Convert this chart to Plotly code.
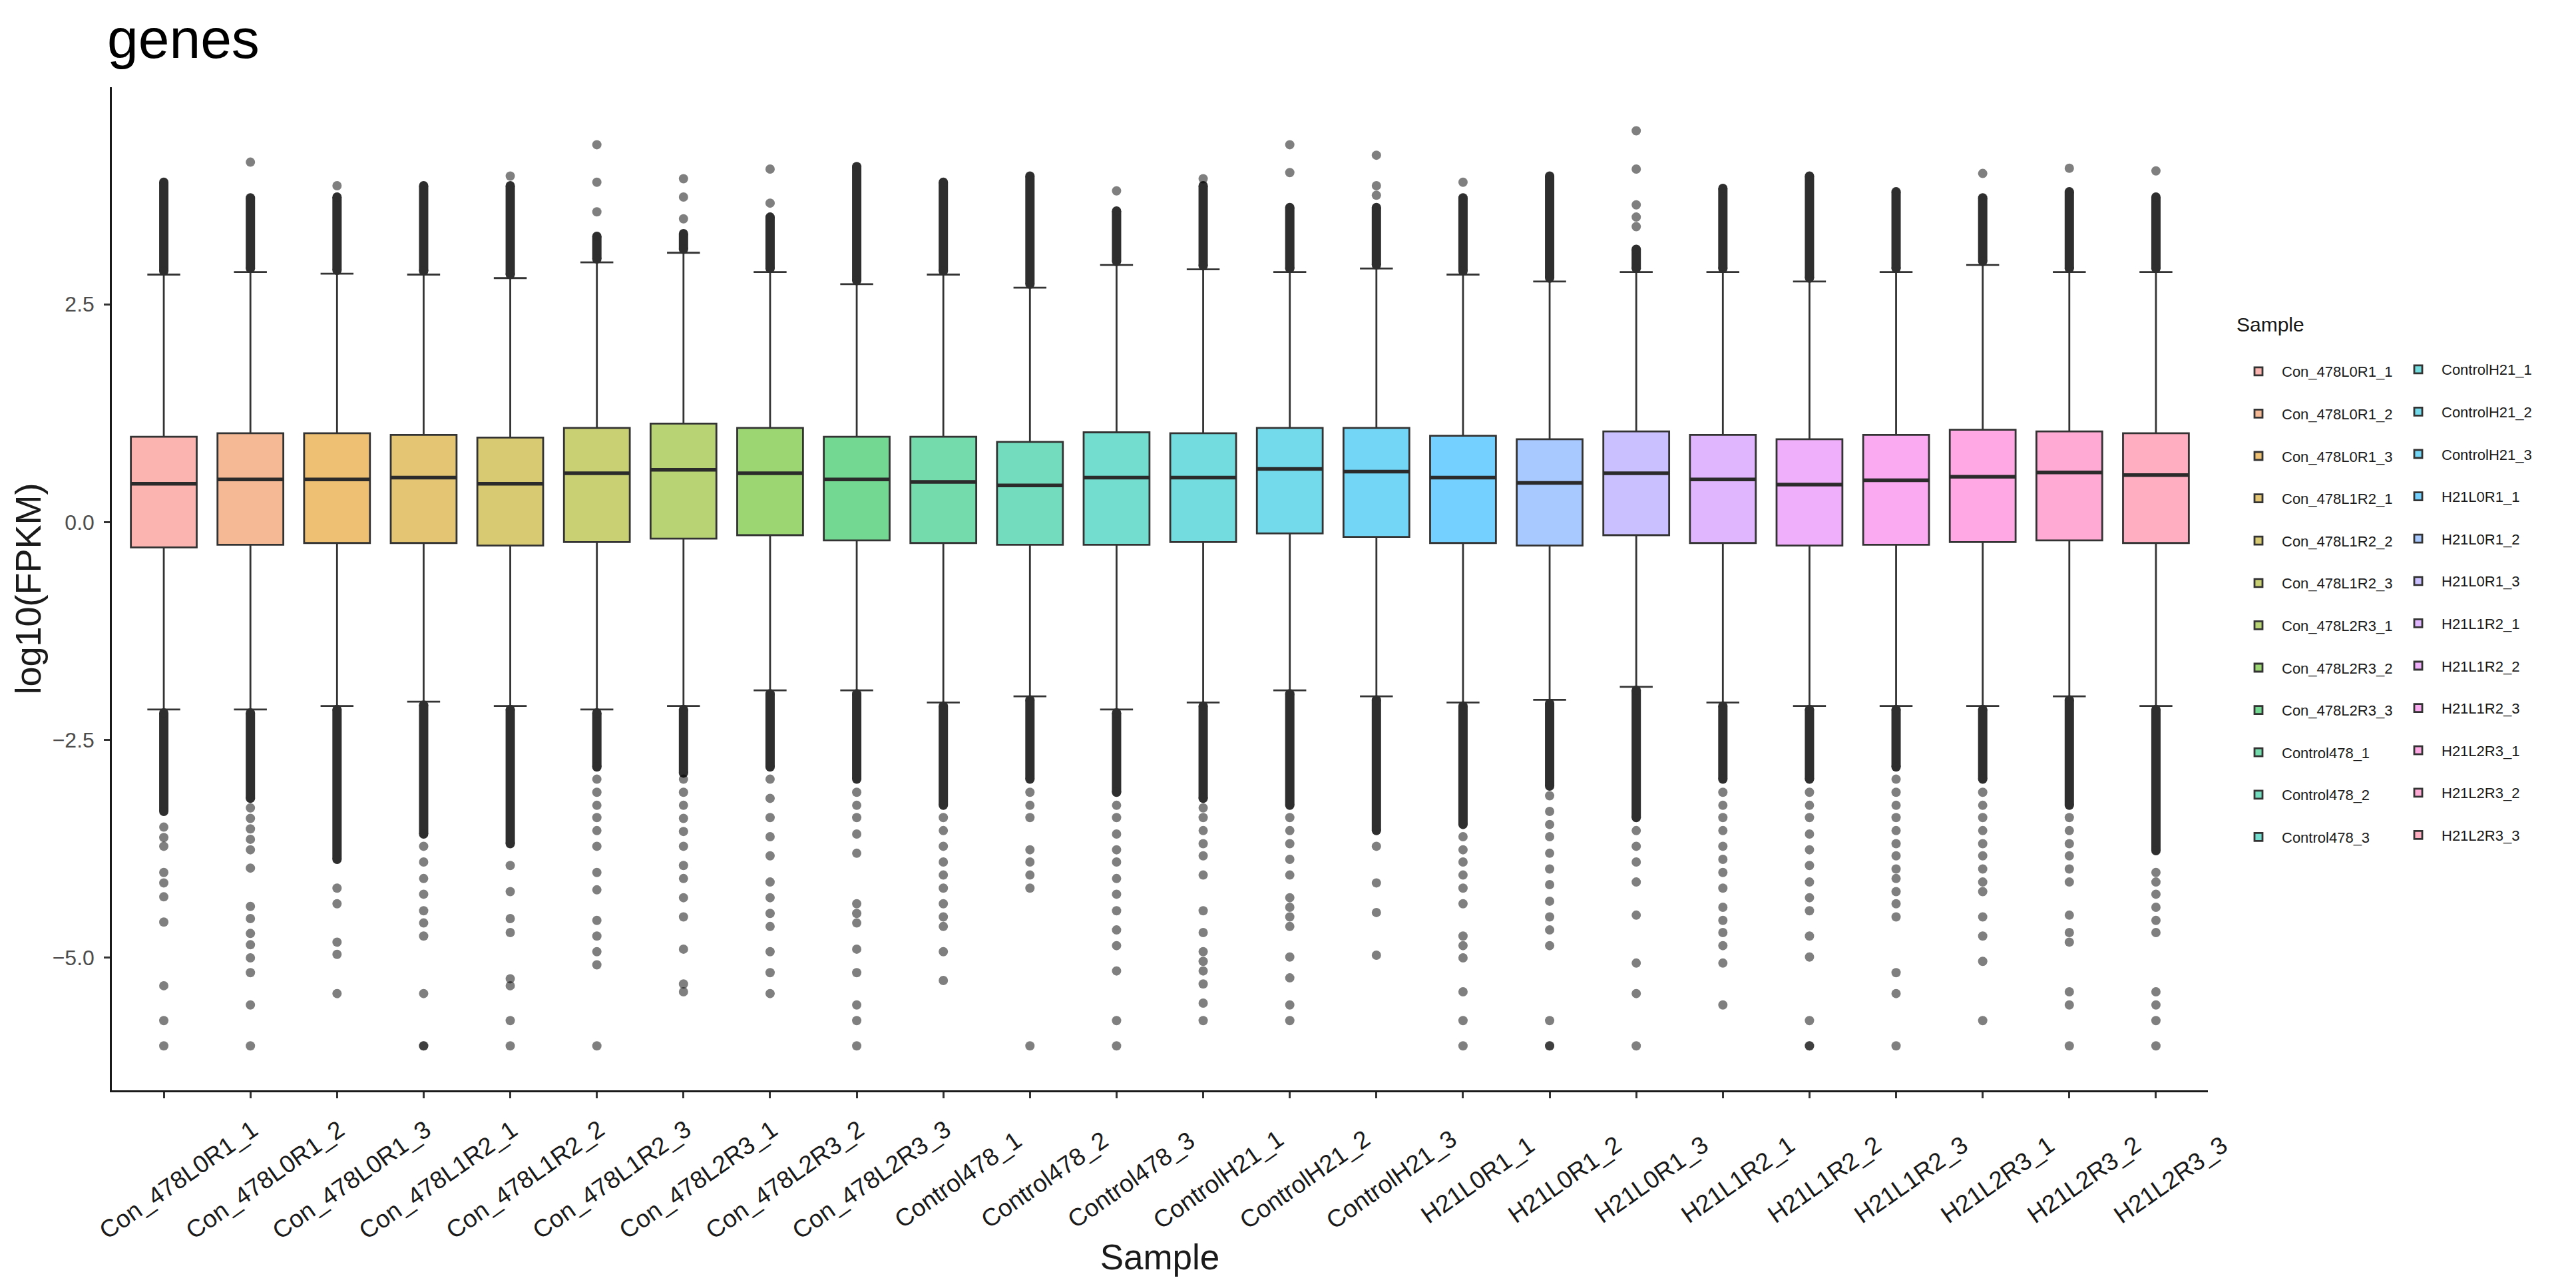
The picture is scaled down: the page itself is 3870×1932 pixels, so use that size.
import math
import plotly.graph_objects as go

# ---------------- data ----------------
samples = ["Con_478L0R1_1", "Con_478L0R1_2", "Con_478L0R1_3", "Con_478L1R2_1",
           "Con_478L1R2_2", "Con_478L1R2_3", "Con_478L2R3_1", "Con_478L2R3_2",
           "Con_478L2R3_3", "Control478_1", "Control478_2", "Control478_3",
           "ControlH21_1", "ControlH21_2", "ControlH21_3", "H21L0R1_1",
           "H21L0R1_2", "H21L0R1_3", "H21L1R2_1", "H21L1R2_2", "H21L1R2_3",
           "H21L2R3_1", "H21L2R3_2", "H21L2R3_3"]

q1 = [-0.29, -0.26, -0.24, -0.24, -0.27, -0.23, -0.19, -0.15, -0.21, -0.24, -0.26, -0.26,
      -0.23, -0.13, -0.17, -0.24, -0.27, -0.15, -0.24, -0.27, -0.26, -0.23, -0.21, -0.24]
median = [0.44, 0.49, 0.49, 0.51, 0.44, 0.56, 0.60, 0.56, 0.49, 0.46, 0.42, 0.51,
          0.51, 0.61, 0.58, 0.51, 0.45, 0.56, 0.49, 0.43, 0.48, 0.52, 0.57, 0.54]
q3 = [0.98, 1.02, 1.02, 1.00, 0.97, 1.08, 1.13, 1.08, 0.98, 0.98, 0.92, 1.03,
      1.02, 1.08, 1.08, 0.99, 0.95, 1.04, 1.00, 0.95, 1.00, 1.06, 1.04, 1.02]
lower_whisker = [-2.15, -2.15, -2.11, -2.06, -2.11, -2.15, -2.11, -1.93, -1.93, -2.07, -2.00, -2.15,
                 -2.07, -1.93, -2.00, -2.07, -2.04, -1.89, -2.07, -2.11, -2.11, -2.11, -2.00, -2.11]
upper_whisker = [2.84, 2.87, 2.85, 2.84, 2.80, 2.98, 3.09, 2.87, 2.73, 2.84, 2.69, 2.95,
                 2.90, 2.87, 2.91, 2.84, 2.76, 2.87, 2.87, 2.76, 2.87, 2.95, 2.87, 2.87]

# extent of the dense (overlapping) outlier runs just beyond each whisker
upper_dense_end = [3.90, 3.72, 3.73, 3.86, 3.86, 3.28, 3.31, 3.50, 4.08, 3.90, 3.97, 3.57,
                   3.86, 3.61, 3.61, 3.72, 3.97, 3.13, 3.83, 3.97, 3.79, 3.72, 3.79, 3.73]
lower_dense_end = [-3.32, -3.17, -3.87, -3.58, -3.69, -2.81, -2.88, -2.81, -2.95, -3.25, -2.95, -3.10,
                   -3.17, -3.25, -3.54, -3.47, -3.03, -3.39, -2.95, -2.95, -2.81, -2.95, -3.25, -3.77]

# individually visible outliers
upper_outliers = [
    [], [4.13], [3.86], [], [3.97], [3.56, 3.90, 4.33], [3.48, 3.73, 3.94], [3.66, 4.05],
    [], [], [], [3.80], [3.94], [4.01, 4.33], [3.75, 3.86, 4.21], [3.90], [],
    [3.39, 3.50, 3.64, 4.05, 4.49], [], [], [], [4.00], [4.06], [4.03],
]
lower_outliers = [
    [-3.50, -3.62, -3.72, -4.02, -4.14, -4.30, -4.59, -5.32, -5.72, -6.01],
    [-3.28, -3.40, -3.52, -3.64, -3.76, -3.97, -4.41, -4.55, -4.72, -4.85, -5.00, -5.17, -5.54, -6.01],
    [-4.20, -4.38, -4.82, -4.96, -5.41],
    [-3.72, -3.90, -4.09, -4.27, -4.46, -4.60, -4.75, -5.41, -6.01, -6.01],
    [-3.94, -4.24, -4.55, -4.71, -5.24, -5.32, -5.72, -6.01],
    [-2.95, -3.10, -3.25, -3.39, -3.54, -3.72, -4.02, -4.22, -4.57, -4.75, -4.93, -5.08, -6.01],
    [-2.95, -3.10, -3.25, -3.40, -3.55, -3.72, -3.94, -4.09, -4.31, -4.53, -4.90, -5.30, -5.39],
    [-2.95, -3.17, -3.39, -3.61, -3.83, -4.13, -4.31, -4.49, -4.64, -4.93, -5.17, -5.41],
    [-3.10, -3.25, -3.39, -3.58, -3.80, -4.38, -4.49, -4.60, -4.90, -5.17, -5.54, -5.72, -6.01],
    [-3.39, -3.54, -3.72, -3.90, -4.05, -4.20, -4.38, -4.53, -4.64, -4.93, -5.26],
    [-3.10, -3.25, -3.39, -3.76, -3.90, -4.05, -4.20, -6.01],
    [-3.25, -3.39, -3.58, -3.76, -3.90, -4.09, -4.27, -4.46, -4.68, -4.86, -5.15, -5.72, -6.01],
    [-3.28, -3.39, -3.54, -3.69, -3.83, -4.05, -4.46, -4.71, -4.93, -5.04, -5.15, -5.30, -5.52, -5.72],
    [-3.39, -3.54, -3.69, -3.87, -4.05, -4.31, -4.42, -4.53, -4.64, -4.99, -5.23, -5.54, -5.72],
    [-3.72, -4.14, -4.48, -4.97],
    [-3.61, -3.76, -3.90, -4.05, -4.20, -4.38, -4.75, -4.86, -5.00, -5.39, -5.72, -6.01],
    [-3.14, -3.32, -3.47, -3.61, -3.80, -3.98, -4.16, -4.35, -4.53, -4.68, -4.86, -5.72, -6.01, -6.01],
    [-3.54, -3.72, -3.90, -4.13, -4.51, -5.06, -5.41, -6.01],
    [-3.10, -3.25, -3.39, -3.54, -3.72, -3.87, -4.02, -4.20, -4.42, -4.57, -4.71, -4.86, -5.06, -5.54],
    [-3.10, -3.25, -3.39, -3.58, -3.76, -3.94, -4.13, -4.31, -4.46, -4.75, -4.99, -5.72, -6.01, -6.01],
    [-2.95, -3.10, -3.25, -3.39, -3.54, -3.69, -3.83, -3.98, -4.09, -4.24, -4.38, -4.53, -5.17, -5.41, -6.01],
    [-3.10, -3.25, -3.39, -3.54, -3.69, -3.83, -3.98, -4.13, -4.24, -4.53, -4.75, -5.04, -5.72],
    [-3.39, -3.54, -3.69, -3.83, -3.98, -4.13, -4.51, -4.71, -4.82, -5.39, -5.54, -6.01],
    [-4.02, -4.13, -4.27, -4.42, -4.57, -4.71, -5.39, -5.54, -5.72, -6.01],
]

# ---------------- styling helpers ----------------
W, H = 3870, 1932
FONT = "Liberation Sans, Arial, sans-serif"


def hcl_hex(h, c=100.0, l=65.0, alpha=0.55):
    """ggplot2 hue palette colour (R's hcl), blended on white with alpha."""
    wu, wv, wy = 0.1978398, 0.4683363, 100.0
    hr = math.radians(h)
    U, V = c * math.cos(hr), c * math.sin(hr)
    Y = wy * ((l + 16) / 116) ** 3 if l > 7.999592 else wy * l / 903.3
    t = wu + U / (13 * l)
    x = wv + V / (13 * l)
    X = 9.0 * Y * t / (4.0 * x)
    Z = -X / 3.0 - 5.0 * Y + 3.0 * Y / x
    lin = [(3.240479 * X - 1.537150 * Y - 0.498535 * Z) / 100,
           (-0.969256 * X + 1.875992 * Y + 0.041556 * Z) / 100,
           (0.055648 * X - 0.204043 * Y + 1.057311 * Z) / 100]
    out = []
    for v in lin:
        v = 12.92 * v if v <= 0.0031308 else 1.055 * v ** (1 / 2.4) - 0.055
        v = min(max(v, 0.0), 1.0) * 255
        out.append(round(255 - alpha * (255 - v)))
    return "#%02x%02x%02x" % tuple(out)


n = len(samples)
fills = [hcl_hex(15 + 360.0 * i / n) for i in range(n)]
BOX_W = 0.76

fig = go.Figure()

for i, s in enumerate(samples):
    fig.add_trace(go.Box(
        x=[s], q1=[q1[i]], median=[median[i]], q3=[q3[i]],
        lowerfence=[lower_whisker[i]], upperfence=[upper_whisker[i]],
        name=s, legendgroup=s, legend="legend" if i < 12 else "legend2",
        fillcolor=fills[i], line=dict(color="#333333", width=2.8),
        width=BOX_W, boxpoints=False, hoverinfo="skip",
    ))

# thicker median bar (ggplot draws the median twice as thick)
fig.add_trace(go.Box(
    x=samples, q1=median, median=median, q3=median,
    lowerfence=median, upperfence=median,
    fillcolor="rgba(0,0,0,0)", line=dict(color="#2b2b2b", width=5.5),
    width=BOX_W, boxpoints=False, showlegend=False, hoverinfo="skip",
))

# dense outlier runs
dx, dy, ex, ey = [], [], [], []
for i, s in enumerate(samples):
    for a, b in ((upper_whisker[i] + 0.04, upper_dense_end[i]),
                 (lower_whisker[i] - 0.04, lower_dense_end[i])):
        dx += [s, s, None]
        dy += [a, b, None]
        ex += [s, s]
        ey += [a, b]
fig.add_trace(go.Scatter(x=dx, y=dy, mode="lines", line=dict(color="#2e2e2e", width=14),
                         showlegend=False, hoverinfo="skip"))
fig.add_trace(go.Scatter(x=ex, y=ey, mode="markers",
                         marker=dict(color="#2e2e2e", size=14, line=dict(width=0)),
                         showlegend=False, hoverinfo="skip"))

# sparse outliers
ox, oy = [], []
for i, s in enumerate(samples):
    for v in upper_outliers[i] + lower_outliers[i]:
        ox.append(s)
        oy.append(v)
fig.add_trace(go.Scatter(x=ox, y=oy, mode="markers",
                         marker=dict(color="rgba(0,0,0,0.5)", size=14, line=dict(width=0)),
                         showlegend=False, hoverinfo="skip"))

# rotated sample labels centred under their ticks (as in ggplot's angle=30)
for s in samples:
    fig.add_annotation(x=s, xref="x", y=0, yref="paper", text=s, showarrow=False,
                       textangle=-35, xanchor="center", yanchor="middle",
                       xshift=22, yshift=-134,
                       font=dict(family=FONT, size=37, color="#1a1a1a"))

L, R, T, B = 160, 561, 123, 302
fig.update_layout(
    width=W, height=H,
    margin=dict(l=L, r=R, t=T, b=B, autoexpand=False),
    paper_bgcolor="white", plot_bgcolor="white",
    boxmode="overlay",
    font=dict(family=FONT, color="#1a1a1a"),
    title=dict(text="genes", x=153 / W, xref="container", xanchor="left",
               y=1 - 20 / H, yref="container", yanchor="top",
               font=dict(family=FONT, size=84, color="black")),
    xaxis=dict(
        type="category", categoryorder="array", categoryarray=samples,
        range=[-0.6, n - 0.4], showgrid=False, zeroline=False,
        showline=True, linecolor="#1a1a1a", linewidth=2.5,
        ticks="outside", ticklen=9, tickwidth=2.5, tickcolor="#333333",
        showticklabels=False,
        title=dict(text="Sample", standoff=222,
                   font=dict(family=FONT, size=53, color="#1a1a1a")),
        automargin=False,
    ),
    yaxis=dict(
        range=[-6.52, 4.99], tick0=0, dtick=2.5, tickformat=".1f",
        showgrid=False, zeroline=False,
        showline=True, linecolor="#1a1a1a", linewidth=2.5,
        ticks="outside", ticklen=9, tickwidth=2.5, tickcolor="#333333",
        ticklabelstandoff=8,
        tickfont=dict(family=FONT, size=32, color="#4d4d4d"),
        title=dict(text="log10(FPKM)", standoff=0,
                   font=dict(family=FONT, size=54, color="#1a1a1a")),
        automargin=False,
    ),
    legend=dict(
        x=3350 / W, xref="container", xanchor="left",
        y=1 - 451 / H, yref="container", yanchor="top",
        title=dict(text="Sample<br>&nbsp;", font=dict(family=FONT, size=30, color="#1a1a1a")),
        font=dict(family=FONT, size=22, color="#1a1a1a"),
        itemwidth=60, tracegroupgap=32, bgcolor="rgba(0,0,0,0)",
    ),
    legend2=dict(
        x=3590 / W, xref="container", xanchor="left",
        y=1 - 526 / H, yref="container", yanchor="top",
        font=dict(family=FONT, size=22, color="#1a1a1a"),
        itemwidth=60, tracegroupgap=32, bgcolor="rgba(0,0,0,0)",
    ),
    showlegend=True,
)

fig.write_html("out.html")
